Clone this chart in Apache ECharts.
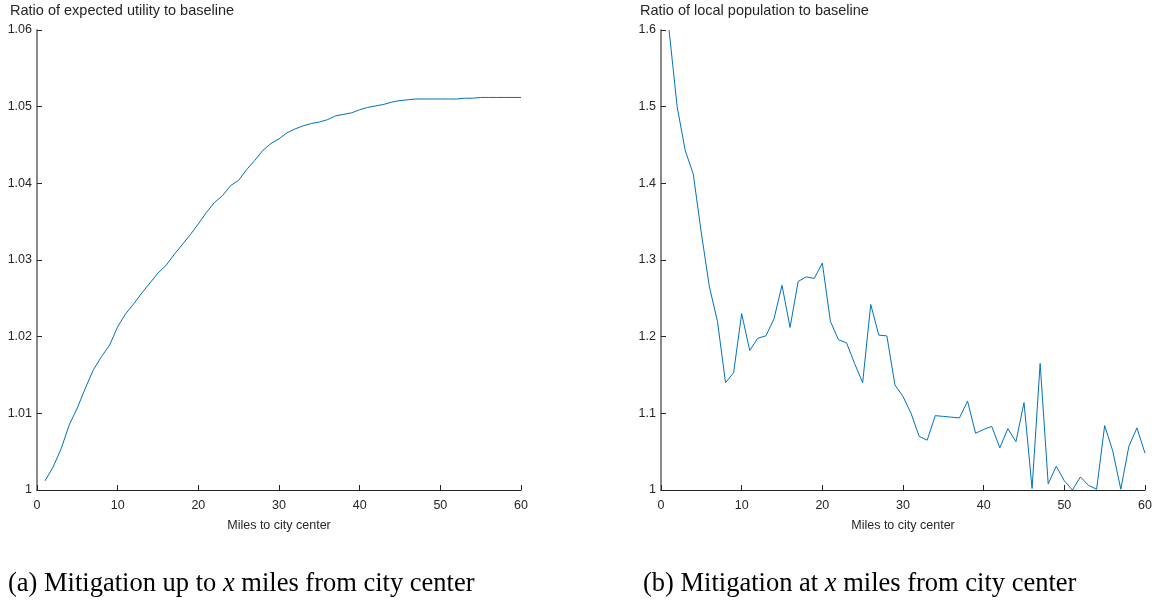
<!DOCTYPE html>
<html>
<head>
<meta charset="utf-8">
<script src="https://cdn.jsdelivr.net/npm/echarts@6/dist/echarts.min.js"></script>
<style>
  html, body { margin: 0; padding: 0; background: #fff; }
  #chart { width: 1156px; height: 601px; }
</style>
</head>
<body>
<div id="chart"></div>
<script>
// Distance from the city center, in miles
const miles = Array.from({ length: 60 }, (_, i) => i + 1);

// Panel (a): mitigation applied up to x miles from the center
const utilityRatio = [
  1.0012, 1.0030, 1.0054, 1.0085, 1.0107, 1.0133, 1.0157, 1.0174, 1.0189, 1.0213,
  1.0230, 1.0243, 1.0257, 1.0270, 1.0283, 1.0293, 1.0307, 1.0320, 1.0333, 1.0347,
  1.0362, 1.0375, 1.0384, 1.0397, 1.0404, 1.0418, 1.0430, 1.0443, 1.0452, 1.0458,
  1.0466, 1.0471, 1.0475, 1.0478, 1.0480, 1.0483, 1.0488, 1.0490, 1.0492, 1.0496,
  1.0499, 1.0501, 1.0503, 1.0506, 1.0508, 1.0509, 1.0510, 1.0510, 1.0510, 1.0510,
  1.0510, 1.0510, 1.0511, 1.0511, 1.0512, 1.0512, 1.0512, 1.0512, 1.0512, 1.0512
];

// Panel (b): mitigation applied only at x miles from the center
const populationRatio = [
  1.600, 1.500, 1.443, 1.412, 1.335, 1.265, 1.220, 1.140, 1.153, 1.230,
  1.182, 1.198, 1.201, 1.223, 1.267, 1.212, 1.272, 1.278, 1.276, 1.296,
  1.220, 1.196, 1.192, 1.165, 1.140, 1.242, 1.202, 1.201, 1.137, 1.122,
  1.100, 1.070, 1.065, 1.097, 1.096, 1.095, 1.094, 1.116, 1.074, 1.079,
  1.083, 1.055, 1.080, 1.063, 1.114, 1.002, 1.165, 1.008, 1.031, 1.012,
  1.000, 1.017, 1.006, 1.001, 1.084, 1.051, 1.001, 1.057, 1.081, 1.048
];

const xTicks = { min: 0, max: 60, interval: 10 };
const yTicksA = { min: 1, max: 1.06, interval: 0.01 };
const yTicksB = { min: 1, max: 1.6, interval: 0.1 };

const axisTitles = ['Ratio of expected utility to baseline', 'Ratio of local population to baseline'];
const xAxisTitle = 'Miles to city center';
const captions = [
  ['(a) Mitigation up to ', 'x', ' miles from city center'],
  ['(b) Mitigation at ', 'x', ' miles from city center']
];

const FONT = '"Liberation Sans", Arial, Helvetica, sans-serif';
const SERIF = '"Liberation Serif", "DejaVu Serif", serif';
const TEXT_COLOR = '#262626';
const LINE_COLOR = '#0072BD';

function makeXAxis(gridIndex) {
  return {
    type: 'value', gridIndex,
    min: xTicks.min, max: xTicks.max, interval: xTicks.interval,
    name: xAxisTitle, nameLocation: 'middle', nameGap: 29,
    nameTextStyle: { fontFamily: FONT, fontSize: 12.5, color: TEXT_COLOR },
    axisLine: { show: true, onZero: false, lineStyle: { color: '#262626', width: 1 } },
    axisTick: { show: true, inside: true, length: 5, lineStyle: { color: '#262626' } },
    axisLabel: { fontFamily: FONT, fontSize: 12.5, color: TEXT_COLOR, margin: 9 },
    splitLine: { show: false }
  };
}

function makeYAxis(gridIndex, ticks, digits) {
  return {
    type: 'value', gridIndex,
    min: ticks.min, max: ticks.max, interval: ticks.interval,
    axisLine: { show: true, onZero: false, lineStyle: { color: '#8a8a8a', width: 2 } },
    axisTick: { show: true, inside: true, length: 5, lineStyle: { color: '#262626' } },
    axisLabel: {
      fontFamily: FONT, fontSize: 12.5, color: TEXT_COLOR, margin: 5,
      formatter: v => String(parseFloat(v.toFixed(digits)))
    },
    splitLine: { show: false }
  };
}

function captionText(left, parts) {
  return {
    type: 'text', left, top: 571,
    style: {
      text: '{n|' + parts[0] + '}{i|' + parts[1] + '}{n|' + parts[2] + '}',
      rich: {
        n: { fontFamily: SERIF, fontSize: 26.5, fill: '#000' },
        i: { fontFamily: SERIF, fontSize: 26.5, fontStyle: 'italic', fill: '#000' }
      }
    }
  };
}

const chart = echarts.init(document.getElementById('chart'), null, { renderer: 'canvas' });

chart.setOption({
  animation: false,
  backgroundColor: '#ffffff',
  grid: [
    { left: 37, top: 30, width: 484, height: 460 },
    { left: 661, top: 30, width: 484, height: 460 }
  ],
  xAxis: [makeXAxis(0), makeXAxis(1)],
  yAxis: [makeYAxis(0, yTicksA, 2), makeYAxis(1, yTicksB, 1)],
  series: [
    {
      type: 'line', xAxisIndex: 0, yAxisIndex: 0,
      data: miles.map((m, i) => [m, utilityRatio[i]]),
      showSymbol: false, lineStyle: { color: LINE_COLOR, width: 1 }
    },
    {
      type: 'line', xAxisIndex: 1, yAxisIndex: 1,
      data: miles.map((m, i) => [m, populationRatio[i]]),
      showSymbol: false, lineStyle: { color: LINE_COLOR, width: 1 }
    }
  ],
  graphic: [
    {
      type: 'text', left: 10, top: 3,
      style: { text: axisTitles[0], font: '14.5px ' + FONT, fill: TEXT_COLOR }
    },
    {
      type: 'text', left: 640, top: 3,
      style: { text: axisTitles[1], font: '14.5px ' + FONT, fill: TEXT_COLOR }
    },
    captionText(8, captions[0]),
    captionText(643, captions[1])
  ]
});
</script>
</body>
</html>
